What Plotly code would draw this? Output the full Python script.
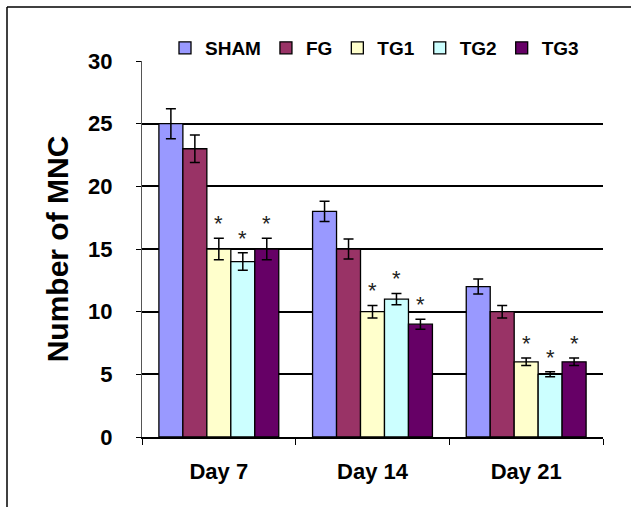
import plotly.graph_objects as go

categories = ["Day 7", "Day 14", "Day 21"]
groups = ["SHAM", "FG", "TG1", "TG2", "TG3"]
sham = [25, 18, 12]
fg = [23, 15, 10]
tg1 = [15, 10, 6]
tg2 = [14, 11, 5]
tg3 = [15, 9, 6]
sham_err = [1.2, 0.8, 0.6]
fg_err = [1.1, 0.8, 0.5]
tg1_err = [0.85, 0.5, 0.3]
tg2_err = [0.7, 0.45, 0.2]
tg3_err = [0.85, 0.4, 0.3]
significant = ["TG1", "TG2", "TG3"]

values = [sham, fg, tg1, tg2, tg3]
errors = [sham_err, fg_err, tg1_err, tg2_err, tg3_err]
colors = ["#9999FF", "#993366", "#FFFFCC", "#CCFFFF", "#660066"]

FONT = "Liberation Sans"
L, R, T, B = 142, 28, 61, 70
W, H = 631, 507
PW, PH = W - L - R, H - T - B

fig = go.Figure()
for name, v, e, c in zip(groups, values, errors, colors):
    fig.add_trace(go.Bar(
        name=name, x=categories, y=v, marker_color=c,
        marker_line=dict(color="black", width=1.3),
        error_y=dict(type="data", array=e, color="black", thickness=1.5, width=5),
    ))

fig.update_layout(
    width=W, height=H,
    margin=dict(l=L, r=R, t=T, b=B, autoexpand=False),
    paper_bgcolor="white", plot_bgcolor="white",
    barmode="group", bargap=0.22, bargroupgap=0,
    font=dict(family=FONT, color="black"),
    legend=dict(orientation="h", x=(165 - L) / PW, xanchor="left",
                y=(H - B - 48) / PH, yanchor="middle",
                font=dict(size=19, family=FONT, weight="bold", color="black"),
                itemwidth=30, tracegroupgap=0, bgcolor="rgba(0,0,0,0)"),
    showlegend=True,
)
fig.update_yaxes(range=[0, 30], dtick=5, showgrid=True, gridcolor="black", gridwidth=1.5,
                 showline=True, linecolor="#555", linewidth=1.2, ticks="outside",
                 ticklen=5, tickcolor="black", zeroline=False, ticklabelstandoff=19,
                 tickfont=dict(size=22, family=FONT, weight="bold", color="black"),
                 title=dict(text="Number of MNC", standoff=10,
                            font=dict(size=30, family=FONT, weight="bold", color="black")))
fig.update_xaxes(showline=True, linecolor="black", linewidth=1.5, ticks="outside",
                 tickson="boundaries", ticklen=6, tickcolor="black", showgrid=False,
                 ticklabelstandoff=14,
                 tickfont=dict(size=22, family=FONT, weight="bold", color="black"))

# significance stars
ng = len(groups)
for gi, name in enumerate(groups):
    if name not in significant:
        continue
    for ci, cat in enumerate(categories):
        offset = (gi - (ng - 1) / 2) / ng * 0.78
        fig.add_annotation(x=ci + offset, y=values[gi][ci] + errors[gi][ci], xref="x", yref="y",
                           text="*", showarrow=False, yanchor="bottom", yshift=0,
                           font=dict(size=22, family=FONT, color="#222"))

# outer frame (top and left edges)
fx0 = (7 - L) / PW
fy1 = (H - B - 7) / PH
fig.add_shape(type="line", xref="paper", yref="paper", x0=fx0, x1=(W + 5 - L) / PW, y0=fy1, y1=fy1,
              line=dict(color="black", width=1.5))
fig.add_shape(type="line", xref="paper", yref="paper", x0=fx0, x1=fx0, y0=fy1, y1=-(B + 5) / PH,
              line=dict(color="black", width=1.5))

fig.write_html("out.html", config={"displayModeBar": False},
               post_script="document.body.style.margin='0px';")
